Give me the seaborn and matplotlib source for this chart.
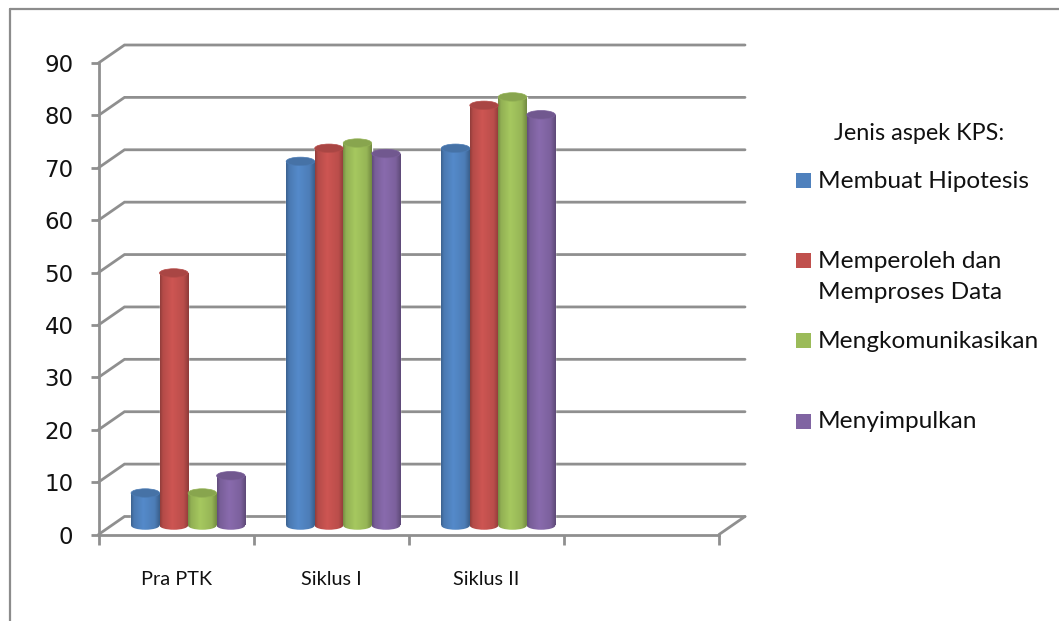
import numpy as np
import pandas as pd
import matplotlib
matplotlib.use("Agg")
import matplotlib.pyplot as plt
from matplotlib.colors import to_rgb
from matplotlib.lines import Line2D
from matplotlib.patches import Ellipse, Rectangle
import seaborn as sns

categories = ["Pra PTK", "Siklus I", "Siklus II", " "]
series_names = ["Membuat Hipotesis", "Memperoleh dan\nMemproses Data", "Mengkomunikasikan", "Menyimpulkan"]
hipotesis = [6.2, 69.5, 72.0, np.nan]
data_proses = [48.2, 72.0, 80.2, np.nan]
komunikasi = [6.2, 73.0, 81.8, np.nan]
simpulkan = [9.5, 71.0, 78.4, np.nan]
colors = ["#4F81BD", "#C0504D", "#9BBB59", "#8064A2"]
y_ticks = list(range(0, 100, 10))
legend_title = "Jenis aspek KPS:"

W, H = 1059, 621
GRAY = "#8f8f8f"
sns.set_style("white")
plt.rcParams["font.family"] = ["Lato", "DejaVu Sans"]

fig = plt.figure(figsize=(W / 100, H / 100), dpi=100)


def px_axes(x0, x1, ytop, ybot, **kw):
    return fig.add_axes([x0 / W, 1 - ybot / H, (x1 - x0) / W, (ybot - ytop) / H], **kw)


# frame of the chart area
fig.add_artist(Line2D([10 / W, 10 / W], [0, 1 - 9 / H], color="#8c8c8c", lw=1.6))
fig.add_artist(Line2D([10 / W, 1], [1 - 9 / H, 1 - 9 / H], color="#8c8c8c", lw=1.6))

# front plane axis
X0, X1, Y0, Y90 = 98.5, 719.0, 534.5, 63.0
ax = px_axes(X0, X1, Y90, Y0, zorder=1)
ax.set_xlim(-0.5, 3.5)
ax.set_ylim(0, 90)
ax.patch.set_alpha(0)
px_x = (X1 - X0) / 4
px_y = (Y0 - Y90) / 90
dx = 26.0 / px_x
dy = 18.0 / px_y

for v in y_ticks:
    ax.plot([-0.5, -0.5 + dx, 3.5 + dx], [v, v + dy, v + dy], color=GRAY, lw=2.0,
            clip_on=False, solid_joinstyle="miter", zorder=1)
ax.plot([3.5, 3.5 + dx], [0, dy], color=GRAY, lw=2.0, clip_on=False, zorder=1)

for side in ["top", "right"]:
    ax.spines[side].set_visible(False)
for side in ["left", "bottom"]:
    ax.spines[side].set_color(GRAY)
    ax.spines[side].set_linewidth(2.0)
ax.set_yticks(y_ticks)
ax.set_xticks([-0.5, 0.5, 1.5, 2.5, 3.5])
ax.set_xticklabels([])
ax.set_xticks([0, 1, 2, 3], labels=categories, minor=True)
ax.tick_params(axis="y", length=6, width=2.0, color=GRAY, left=True, labelsize=16.5, pad=12)
ax.tick_params(axis="x", which="major", length=7, width=2.0, color=GRAY, bottom=True)
ax.tick_params(axis="x", which="minor", length=0, labelsize=14.3, pad=26)
for t in ax.get_yticklabels():
    t.set_fontfamily("DejaVu Sans")
    t.set_color("#111111")
for t in ax.get_xticklabels(minor=True):
    t.set_color("#111111")

# cylinders sit half way into the depth of the plot
BX, BY = 12.0, 9.0
EXTRA = 10
ax_bar = px_axes(X0 + BX, X1 + BX, Y90 - BY, Y0 - BY + EXTRA * px_y, zorder=2)
df = pd.DataFrame({
    "kategori": categories * 4,
    "aspek": np.repeat(series_names, 4),
    "nilai": hipotesis + data_proses + komunikasi + simpulkan,
})
sns.barplot(data=df, x="kategori", y="nilai", hue="aspek", order=categories, hue_order=series_names,
            palette=colors, width=0.735, gap=0, dodge=True, legend=False, saturation=1, ax=ax_bar)
ax_bar.set_xlim(-0.5, 3.5)
ax_bar.set_ylim(-EXTRA, 90)
ax_bar.axis("off")
ax_bar.patch.set_alpha(0)

ell_h = 8.5 / px_y
profile_x = np.array([0.0, 0.10, 0.42, 0.82, 1.0])
profile_v = np.array([0.76, 0.94, 1.07, 0.97, 0.74])
xs = np.linspace(0, 1, 64)
shade = np.interp(xs, profile_x, profile_v)

for idx, bar in enumerate(list(ax_bar.patches)):
    h = bar.get_height()
    if not np.isfinite(h) or h <= 0:
        continue
    col = np.array(to_rgb(bar.get_facecolor()))
    grad = np.clip(col[None, None, :] * shade[None, :, None], 0, 1)
    x, w = bar.get_x(), bar.get_width()
    base = Ellipse((x + w / 2, 0), w, ell_h, facecolor="none", edgecolor="none", zorder=2)
    ax_bar.add_patch(base)
    for clip, ylo, yhi in [(base, -ell_h, ell_h), (bar, 0, h)]:
        im = ax_bar.imshow(grad, extent=(x, x + w, ylo, yhi), aspect="auto", zorder=3,
                           interpolation="bilinear")
        im.set_clip_path(clip)
    ax_bar.add_patch(Ellipse((x + w / 2, h), w, ell_h, facecolor=col * 0.88, edgecolor=col * 0.95,
                             lw=0.5, zorder=4))
ax_bar.set_xlim(-0.5, 3.5)
ax_bar.set_ylim(-EXTRA, 90)

# legend
fig.text(834 / W, 1 - 133 / H, legend_title, fontsize=16.8, color="#111111", va="center", ha="left")
leg_y = [180.5, 260.5, 340.5, 421.5]
for name, c, y in zip(series_names, colors, leg_y):
    fig.add_artist(Rectangle((796 / W, 1 - (y + 7.5) / H), 15 / W, 15 / H, facecolor=c,
                             edgecolor="none", transform=fig.transFigure))
    fig.text(818 / W, 1 - (y - 10) / H, name, fontsize=17.6, color="#111111", va="top", ha="left",
             linespacing=1.6)

fig.savefig("out.png", dpi=100, facecolor="white")
